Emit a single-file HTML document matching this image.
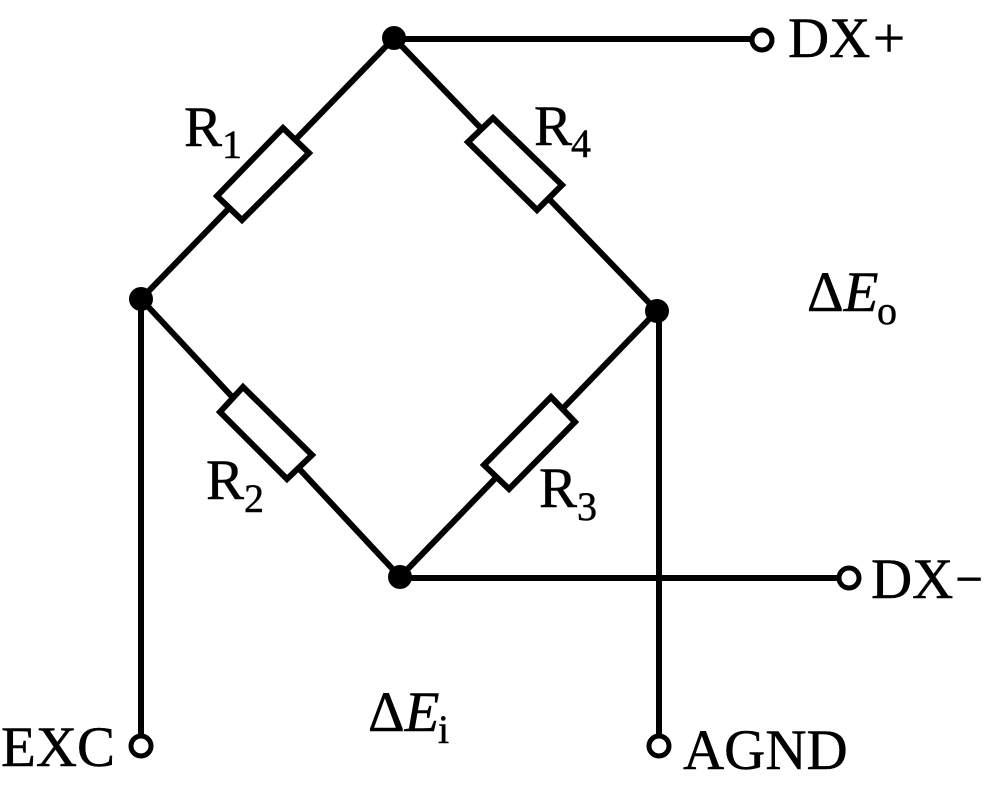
<!DOCTYPE html>
<html>
<head>
<meta charset="utf-8">
<style>
html,body{margin:0;padding:0;background:#fff;}
svg{display:block;}
text{font-family:"Liberation Serif",serif;font-size:57px;fill:#000;stroke:#000;stroke-width:.5px;}
.s{font-size:40px;}
.i{font-style:italic;}
</style>
</head>
<body>
<svg width="985" height="788" viewBox="0 0 985 788" xmlns="http://www.w3.org/2000/svg">
<g fill="none" stroke="#000" stroke-width="6">
<path d="M394 38L141 299V734"/>
<path d="M394 38L657 311"/>
<path d="M141 299L400 577"/>
<path d="M657 311L400 577"/>
<path d="M657 311H659V734"/>
<path d="M394 39H750"/>
<path d="M400 578H837"/>
<g fill="#fff" stroke-miterlimit="10">
<polygon points="283,128 309,153 242,220 217,196"/>
<polygon points="493,118 562,185 537,210 468,142"/>
<polygon points="243,387 312,455 287,479 220,412"/>
<polygon points="551,397 575,422 509,489 484,465"/>
</g>
<g fill="#fff" stroke-width="5">
<circle cx="762" cy="40" r="10"/>
<circle cx="849" cy="578" r="10"/>
<circle cx="141" cy="746" r="10"/>
<circle cx="659" cy="746" r="10"/>
</g>
</g>
<g fill="#000">
<circle cx="394" cy="38" r="12"/>
<circle cx="141" cy="299" r="12"/>
<circle cx="657" cy="311" r="12"/>
<circle cx="400" cy="577" r="12"/>
</g>
<text x="184" y="146">R</text><text class="s" x="222" y="158">1</text>
<text x="534" y="145">R</text><text class="s" x="571" y="157">4</text>
<text x="206" y="499">R</text><text class="s" x="244" y="512">2</text>
<text x="539" y="507">R</text><text class="s" x="577" y="520">3</text>
<text x="788" y="57">DX</text><text x="873" y="57">+</text>
<text x="871" y="598">DX</text><text x="955.5" y="595" style="font-size:48px;stroke-width:1px">−</text>
<text x="683" y="769">AGND</text>
<text x="1" y="766">EXC</text>
<text x="368" y="731">Δ<tspan class="i">E</tspan></text><text class="s" x="438" y="743">i</text>
<text x="807" y="311">Δ<tspan class="i">E</tspan></text><text class="s" x="877" y="324">o</text>
</svg>
</body>
</html>
